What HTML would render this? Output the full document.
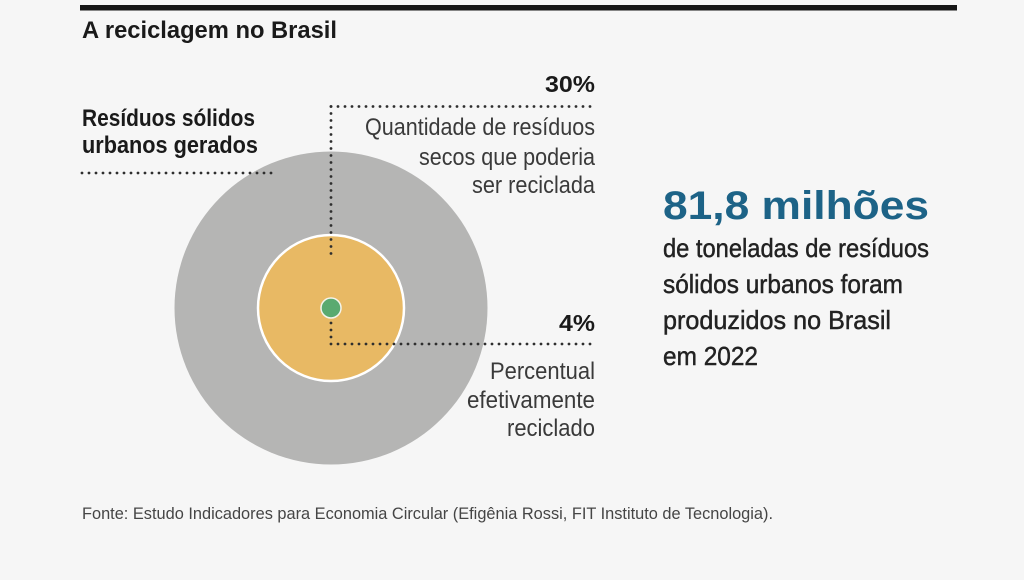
<!DOCTYPE html>
<html>
<head>
<meta charset="utf-8">
<style>
  html, body { margin: 0; padding: 0; background: #f6f6f6; }
  body { width: 1024px; height: 580px; overflow: hidden; }
  svg { display: block; }
  text { font-family: "Liberation Sans", "DejaVu Sans", sans-serif; }
</style>
</head>
<body>
<svg width="1024" height="580" viewBox="0 0 1024 580" xmlns="http://www.w3.org/2000/svg">
  <rect x="0" y="0" width="1024" height="580" fill="#f6f6f6"/>

  <!-- top bar -->
  <rect x="80" y="5" width="877" height="5.5" fill="#161616"/>

  <!-- title -->
  <text x="82" y="38" font-size="24.5" font-weight="bold" fill="#1a1a1a" textLength="255" lengthAdjust="spacingAndGlyphs">A reciclagem no Brasil</text>

  <!-- left label -->
  <text x="82" y="126" font-size="24.5" font-weight="bold" fill="#1a1a1a" textLength="173" lengthAdjust="spacingAndGlyphs">Resíduos sólidos</text>
  <text x="82" y="153" font-size="24.5" font-weight="bold" fill="#1a1a1a" textLength="176" lengthAdjust="spacingAndGlyphs">urbanos gerados</text>

  <!-- circles -->
  <circle cx="331" cy="308" r="156.5" fill="#b5b5b4"/>
  <circle cx="331" cy="308" r="73" fill="#e8b964" stroke="#ffffff" stroke-width="2.5"/>
  <circle cx="331" cy="308" r="10" fill="#5aaa70" stroke="#f4f4ec" stroke-width="1.5"/>

  <!-- dotted lines -->
  <g stroke="#2e2e2e" stroke-width="2.8" stroke-linecap="round" stroke-dasharray="0 7" fill="none">
    <line x1="82" y1="173" x2="276" y2="173"/>
    <line x1="331" y1="106.5" x2="596" y2="106.5"/>
    <line x1="331" y1="106.5" x2="331" y2="258"/>
    <line x1="331" y1="323" x2="331" y2="344"/>
    <line x1="331" y1="344" x2="596" y2="344"/>
  </g>

  <!-- 30% block -->
  <text x="595" y="92" font-size="23.5" font-weight="bold" fill="#1a1a1a" text-anchor="end" textLength="50" lengthAdjust="spacingAndGlyphs">30%</text>
  <text x="595" y="135" font-size="24" fill="#3a3a3a" text-anchor="end" textLength="230" lengthAdjust="spacingAndGlyphs">Quantidade de resíduos</text>
  <text x="595" y="165" font-size="24" fill="#3a3a3a" text-anchor="end" textLength="176" lengthAdjust="spacingAndGlyphs">secos que poderia</text>
  <text x="595" y="193" font-size="24" fill="#3a3a3a" text-anchor="end" textLength="123" lengthAdjust="spacingAndGlyphs">ser reciclada</text>

  <!-- 4% block -->
  <text x="595" y="331" font-size="23.5" font-weight="bold" fill="#1a1a1a" text-anchor="end" textLength="36" lengthAdjust="spacingAndGlyphs">4%</text>
  <text x="595" y="379" font-size="24" fill="#3a3a3a" text-anchor="end" textLength="105" lengthAdjust="spacingAndGlyphs">Percentual</text>
  <text x="595" y="408" font-size="24" fill="#3a3a3a" text-anchor="end" textLength="128" lengthAdjust="spacingAndGlyphs">efetivamente</text>
  <text x="595" y="436" font-size="24" fill="#3a3a3a" text-anchor="end" textLength="88" lengthAdjust="spacingAndGlyphs">reciclado</text>

  <!-- right column -->
  <text x="663" y="219" font-size="40" font-weight="bold" fill="#1d6387" textLength="266" lengthAdjust="spacingAndGlyphs">81,8 milhões</text>
  <g font-size="26" fill="#222222" stroke="#222222" stroke-width="0.45">
    <text x="663" y="257" textLength="266" lengthAdjust="spacingAndGlyphs">de toneladas de resíduos</text>
    <text x="663" y="293" textLength="240" lengthAdjust="spacingAndGlyphs">sólidos urbanos foram</text>
    <text x="663" y="329" textLength="228" lengthAdjust="spacingAndGlyphs">produzidos no Brasil</text>
    <text x="663" y="365" textLength="95" lengthAdjust="spacingAndGlyphs">em 2022</text>
  </g>

  <!-- footer -->
  <text x="82" y="519" font-size="17" fill="#454545" textLength="691" lengthAdjust="spacingAndGlyphs">Fonte: Estudo Indicadores para Economia Circular (Efigênia Rossi, FIT Instituto de Tecnologia).</text>
</svg>
</body>
</html>
